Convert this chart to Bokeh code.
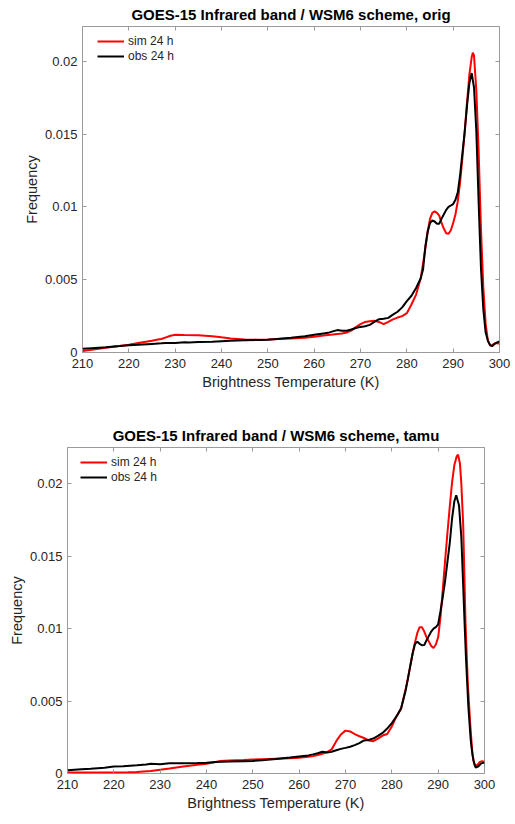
from bokeh.plotting import figure
from bokeh.layouts import column
from bokeh.models import FixedTicker, LinearAxis, Range1d
from bokeh.embed import file_html
from bokeh.resources import INLINE

# ---------------- data ----------------
x_ticks = [210, 220, 230, 240, 250, 260, 270, 280, 290, 300]
y_ticks = [0, 0.005, 0.01, 0.015, 0.02]
y_tick_labels = ["0", "0.005", "0.01", "0.015", "0.02"]

titles = ["GOES-15 Infrared band / WSM6 scheme, orig",
          "GOES-15 Infrared band / WSM6 scheme, tamu"]
series_names = ["sim 24 h", "obs 24 h"]

# top panel (orig)
orig_sim_t = [210, 212, 215, 218, 220, 222, 224, 225, 226, 227, 228, 229, 230, 232, 235, 238,
              240, 242, 245, 248, 250, 252, 255, 258, 260, 262, 264, 265, 266, 267, 268, 269,
              270, 271, 272, 273, 274, 275, 276, 277, 278, 279, 280, 281, 282, 283, 284, 284.5,
              285, 285.5, 286, 286.5, 287, 287.5, 288, 288.5, 289, 289.5, 290, 290.5, 291,
              291.5, 292, 292.5, 293, 293.5, 294, 294.25, 294.5, 295, 295.5, 296, 296.5, 297,
              297.5, 298, 298.5, 299, 299.5, 300]
orig_sim_v = [0.0001, 0.00018, 0.00032, 0.00045, 0.00054, 0.00066, 0.00076, 0.00081, 0.00087,
              0.00093, 0.00104, 0.00115, 0.00122, 0.0012, 0.00118, 0.00112, 0.00104, 0.00097,
              0.0009, 0.00088, 0.0009, 0.00093, 0.00097, 0.00102, 0.00109, 0.00116, 0.00123,
              0.00127, 0.0013, 0.00137, 0.0015, 0.00175, 0.00195, 0.0021, 0.00215, 0.00218,
              0.0021, 0.00195, 0.0021, 0.00228, 0.0024, 0.0025, 0.0027, 0.0033, 0.00398, 0.0051,
              0.00714, 0.0083, 0.00918, 0.0096, 0.0097, 0.0096, 0.0094, 0.0089, 0.0085, 0.0082,
              0.00816, 0.0084, 0.0089, 0.0095, 0.0104, 0.0117, 0.0134, 0.0152, 0.0172, 0.0191,
              0.0203, 0.0206, 0.0204, 0.018, 0.0138, 0.0085, 0.0045, 0.002, 0.0008, 0.00047,
              0.00052, 0.00063, 0.00065, 0.0006]

orig_obs_t = [210, 212, 215, 218, 220, 222, 225, 227, 228, 230, 232, 233, 235, 238, 240, 242,
              245, 248, 250, 252, 255, 258, 260, 262, 263, 264, 265, 266, 267, 268, 269, 270,
              271, 272, 273, 274, 275, 276, 277, 278, 279, 280, 281, 282, 283, 283.5, 284,
              284.5, 285, 285.5, 286, 286.5, 287, 287.5, 288, 288.5, 289, 289.5, 290, 290.5,
              291, 291.5, 292, 292.5, 293, 293.5, 294, 294.5, 295, 295.5, 296, 296.5, 297,
              297.5, 298, 298.4, 299, 299.5, 300]
orig_obs_v = [0.00025, 0.0003, 0.00036, 0.00044, 0.0005, 0.00053, 0.00059, 0.00063, 0.00066,
              0.00066, 0.0007, 0.00068, 0.00072, 0.00074, 0.00077, 0.0008, 0.00084, 0.00086,
              0.00088, 0.00093, 0.00102, 0.00112, 0.00122, 0.00131, 0.00135, 0.00145, 0.00154,
              0.0015, 0.0015, 0.00158, 0.00168, 0.00176, 0.0018, 0.0019, 0.0021, 0.00229,
              0.00232, 0.00238, 0.0026, 0.0028, 0.0031, 0.00353, 0.0039, 0.00443, 0.0051,
              0.0057, 0.0073, 0.0083, 0.0089, 0.00907, 0.009, 0.00885, 0.00885, 0.0092, 0.0095,
              0.0098, 0.01, 0.0101, 0.0102, 0.0105, 0.011, 0.0122, 0.0137, 0.0152, 0.017,
              0.0185, 0.0192, 0.0182, 0.0152, 0.0103, 0.0058, 0.003, 0.0014, 0.0008, 0.0005,
              0.00043, 0.0006, 0.0007, 0.00077]

# bottom panel (tamu)
tamu_sim_t = [210, 215, 220, 223, 225, 228, 230, 232, 235, 238, 240, 242, 243, 245, 248, 250,
              255, 258, 260, 262, 263, 264, 265, 266, 267, 268, 269, 270, 271, 272, 273, 274,
              275, 276, 277, 278, 279, 280, 281, 282, 283, 283.5, 284, 284.5, 285, 285.5, 286,
              286.5, 287, 287.5, 288, 288.5, 289, 289.5, 290, 290.5, 291, 291.5, 292, 292.5,
              293, 293.5, 294, 294.3, 294.7, 295, 295.4, 295.9, 296.4, 296.9, 297.4, 297.9,
              298.5, 299, 299.5, 300]
tamu_sim_v = [0.00007, 0.00007, 0.00007, 0.00008, 0.0001, 0.00018, 0.00026, 0.00034, 0.00048,
              0.0006, 0.00068, 0.0008, 0.00087, 0.0009, 0.00093, 0.00096, 0.00102, 0.00105,
              0.00109, 0.00115, 0.0012, 0.00127, 0.00136, 0.00148, 0.00166, 0.00223, 0.00269,
              0.00296, 0.0029, 0.00272, 0.00257, 0.00245, 0.00228, 0.00223, 0.00241, 0.00262,
              0.00273, 0.00325, 0.00394, 0.00446, 0.00587, 0.0066, 0.00746, 0.0083, 0.00905,
              0.0097, 0.0101, 0.0101, 0.0098, 0.0094, 0.0091, 0.0088, 0.00866, 0.0089, 0.0094,
              0.0108, 0.0127, 0.0147, 0.0166, 0.0184, 0.0201, 0.0213, 0.0219, 0.022, 0.0214,
              0.02, 0.0172, 0.0104, 0.0062, 0.0035, 0.0013, 0.00053, 0.0006, 0.0008, 0.00085,
              0.0008]

tamu_obs_t = [210, 213, 215, 218, 220, 222, 225, 227, 228, 230, 232, 235, 238, 240, 242, 245,
              248, 250, 252, 255, 258, 260, 262, 263, 264, 265, 266, 267, 268, 269, 270, 271,
              272, 273, 274, 275, 276, 277, 278, 279, 280, 281, 282, 283, 283.5, 284, 284.5,
              285, 285.5, 286, 286.5, 287, 287.5, 288, 288.5, 289, 289.5, 290, 290.5, 291,
              291.5, 292, 292.5, 293, 293.5, 293.9, 294.5, 295, 295.3, 295.7, 296, 296.5, 297,
              297.2, 297.6, 298.1, 298.7, 299.3, 300]
tamu_obs_v = [0.00023, 0.0003, 0.00033, 0.0004, 0.00048, 0.0005, 0.00057, 0.00062, 0.00068,
              0.00064, 0.0007, 0.00071, 0.00073, 0.00075, 0.0008, 0.00082, 0.00085, 0.00087,
              0.00092, 0.001, 0.0011, 0.00118, 0.00125, 0.00132, 0.0014, 0.0015, 0.00145,
              0.0015, 0.0016, 0.0017, 0.00177, 0.00185, 0.00196, 0.0021, 0.00228, 0.00232,
              0.00241, 0.0026, 0.0028, 0.0031, 0.00348, 0.00394, 0.0045, 0.00575, 0.0066,
              0.00746, 0.0083, 0.00894, 0.0091, 0.00895, 0.00885, 0.00887, 0.0092, 0.0095,
              0.0098, 0.01, 0.0101, 0.0103, 0.0112, 0.0122, 0.0133, 0.0146, 0.0159, 0.0176,
              0.0188, 0.0192, 0.0185, 0.0163, 0.0138, 0.0104, 0.008, 0.0047, 0.0024, 0.0018,
              0.0009, 0.0004, 0.0005, 0.0007, 0.00075]

# ---------------- styling ----------------
FONT = "Liberation Sans"
TXT = "#262626"
BOX = "#9a9a9a"


def make_panel(title, sim_t, sim_v, obs_t, obs_v, ymax, height, bb, leg_loc, margin):
    p = figure(width=515, height=height, x_range=Range1d(210, 300),
               y_range=Range1d(0, ymax), output_backend="svg", toolbar_location=None,
               min_border_left=82, min_border_right=16, min_border_top=22,
               min_border_bottom=bb, margin=margin)
    p.title.text = title
    p.title.text_font = FONT
    p.title.text_font_size = "15px"
    p.title.text_font_style = "bold"
    p.title.text_color = "black"
    p.title.align = "center"
    p.title.standoff = 7
    p.grid.visible = False
    p.outline_line_color = BOX
    p.outline_line_width = 1
    p.background_fill_color = "white"
    p.border_fill_color = "white"

    xa = p.xaxis[0]
    ya = p.yaxis[0]
    xa.ticker = FixedTicker(ticks=x_ticks)
    ya.ticker = FixedTicker(ticks=y_ticks)
    ya.major_label_overrides = dict(zip(y_ticks, y_tick_labels))
    xa.axis_label = "Brightness Temperature (K)"
    ya.axis_label = "Frequency"
    for ax in (xa, ya):
        ax.axis_line_color = None
        ax.major_tick_line_color = BOX
        ax.major_tick_in = 4
        ax.major_tick_out = 0
        ax.minor_tick_line_color = None
        ax.major_label_text_font = FONT
        ax.major_label_text_font_size = "13px"
        ax.major_label_text_color = TXT
        ax.axis_label_text_font = FONT
        ax.axis_label_text_font_size = "14.5px"
        ax.axis_label_text_font_style = "normal"
        ax.axis_label_text_color = TXT
    xa.major_label_standoff = 6
    xa.axis_label_standoff = 3
    ya.major_label_standoff = 5
    ya.axis_label_standoff = 2

    for loc, tk in (("above", x_ticks), ("right", y_ticks)):
        ax = LinearAxis(ticker=FixedTicker(ticks=tk))
        ax.axis_line_color = None
        ax.major_tick_line_color = BOX
        ax.major_tick_in = 4
        ax.major_tick_out = 0
        ax.minor_tick_line_color = None
        ax.major_label_text_font_size = "1px"
        ax.major_label_text_color = None
        ax.major_label_standoff = 0
        p.add_layout(ax, loc)

    p.line(sim_t, sim_v, line_color="#ff0000", line_width=2, legend_label=series_names[0])
    p.line(obs_t, obs_v, line_color="black", line_width=2, legend_label=series_names[1])

    lg = p.legend[0]
    lg.location = leg_loc
    lg.margin = 0
    lg.padding = 0
    lg.spacing = 1
    lg.glyph_width = 27
    lg.glyph_height = 14
    lg.label_height = 14
    lg.label_standoff = 4
    lg.label_text_font = FONT
    lg.label_text_font_size = "12px"
    lg.label_text_color = TXT
    lg.background_fill_alpha = 0
    lg.border_line_color = None
    return p


p1 = make_panel(titles[0], orig_sim_t, orig_sim_v, orig_obs_t, orig_obs_v, 0.0224, 421,
                69, (15, 289), (0, 0, 0, 0))
p2 = make_panel(titles[1], tamu_sim_t, tamu_sim_v, tamu_obs_t, tamu_obs_v, 0.0225, 400,
                48, (13, 289), (0, 0, 0, -15))

layout = column(p1, p2, spacing=0)
open("out.html", "w").write(file_html(layout, INLINE))
